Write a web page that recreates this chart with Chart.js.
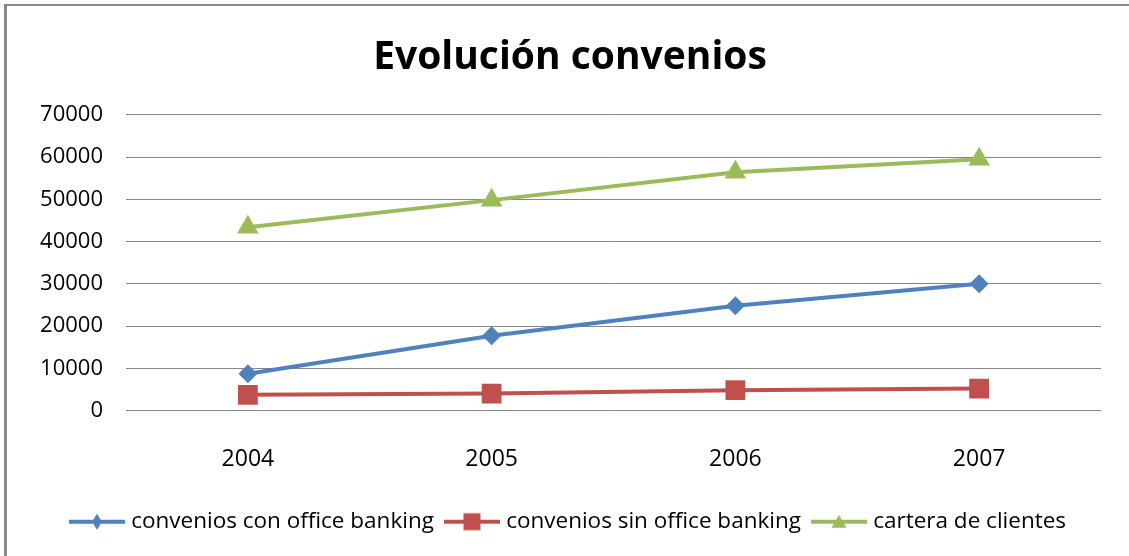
<!DOCTYPE html>
<html>
<head>
<meta charset="utf-8">
<title>Evolución convenios</title>
<script src="https://cdn.jsdelivr.net/npm/chart.js@4.4.1/dist/chart.umd.min.js"></script>
<style>
  html, body { margin: 0; padding: 0; background: #fff; }
  #marco {
    position: absolute; left: 4px; top: 4px; width: 1140px; height: 600px;
    border-left: 3px solid #8a8a8a; border-top: 2px solid #8a8a8a;
  }
  #wrap { position: absolute; left: 0; top: 0; width: 1129px; height: 556px; }
</style>
</head>
<body>
<div id="marco"></div>
<div id="wrap"><canvas id="grafico"></canvas></div>
<script>
/* *****
datos del grafico
***** */
const years = ['2004', '2005', '2006', '2007'];
const conOffice = [8700, 17700, 24800, 30000];
const sinOffice = [3700, 4000, 4800, 5200];
const cartera = [43400, 49800, 56400, 59500];
const yTickLabels = ['0', '10000', '20000', '30000', '40000', '50000', '60000', '70000'];
const seriesNames = ['convenios con office banking', 'convenios sin office banking', 'cartera de clientes'];
const seriesColors = ['#4F81BD', '#C0504D', '#9BBB59'];

//icono de leyenda: linea + marcador, como en excel
const legendIcon = (color, style) => {
    const c = document.createElement('canvas');
    c.width = 56;
    c.height = 20;
    const ctx = c.getContext('2d');
    ctx.strokeStyle = color;
    ctx.fillStyle = color;
    ctx.lineWidth = 4;
    ctx.beginPath();
    ctx.moveTo(0, 10);
    ctx.lineTo(56, 10);
    ctx.stroke();
    ctx.beginPath();
    if (style == 'rectRot') {
        ctx.moveTo(28, 2);
        ctx.lineTo(33, 10);
        ctx.lineTo(28, 18);
        ctx.lineTo(23, 10);
    } else if (style == 'rect') {
        ctx.rect(19.5, 1.5, 17, 17);
    } else {
        ctx.moveTo(28, 3);
        ctx.lineTo(35.5, 16);
        ctx.lineTo(20.5, 16);
    }
    ctx.closePath();
    ctx.fill();
    return c;
}

const styles = ['rectRot', 'rect', 'triangle'];
const radios = [9.5, 14, 12.5];
const values = [conOffice, sinOffice, cartera];

const datasets = values.map((v, i) => ({
    label: seriesNames[i],
    data: v,
    borderColor: seriesColors[i],
    backgroundColor: seriesColors[i],
    borderWidth: 4,
    pointStyle: styles[i],
    pointRadius: radios[i],
    pointBorderWidth: 0,
    tension: 0
}));

const FONT = "'Open Sans', sans-serif";

new Chart(document.getElementById('grafico'), {
    type: 'line',
    data: {
        labels: years,
        datasets: datasets
    },
    options: {
        responsive: true,
        maintainAspectRatio: false,
        animation: false,
        events: [],
        layout: { padding: { left: 39, right: 28, top: 0, bottom: 13 } },
        plugins: {
            title: {
                display: true,
                text: 'Evolución convenios',
                color: '#000',
                font: { family: FONT, size: 39, weight: 'bold' },
                padding: { top: 34, bottom: 34 }
            },
            legend: {
                position: 'bottom',
                labels: {
                    color: '#000',
                    font: { family: FONT, size: 22.5 },
                    usePointStyle: true,
                    pointStyleWidth: 46,
                    padding: 15,
                    generateLabels: (chart) => {
                        const items = Chart.defaults.plugins.legend.labels.generateLabels(chart);
                        items.forEach((it, i) => {
                            it.pointStyle = legendIcon(seriesColors[i], styles[i]);
                        });
                        return items;
                    }
                }
            },
            tooltip: { enabled: false }
        },
        scales: {
            x: {
                offset: true,
                grid: { display: false },
                border: { display: false },
                ticks: { color: '#000', font: { family: FONT, size: 23 }, padding: 27 },
                afterFit: (scale) => { scale.height = 85; }
            },
            y: {
                min: 0,
                max: 70000,
                grid: { color: '#868686', lineWidth: 1, drawTicks: false },
                border: { display: false },
                ticks: {
                    stepSize: 10000,
                    color: '#000',
                    font: { family: FONT, size: 22 },
                    padding: 23,
                    callback: (v, i) => yTickLabels[i]
                },
                afterFit: (scale) => { scale.width = 87; }
            }
        }
    }
});
</script>
</body>
</html>
